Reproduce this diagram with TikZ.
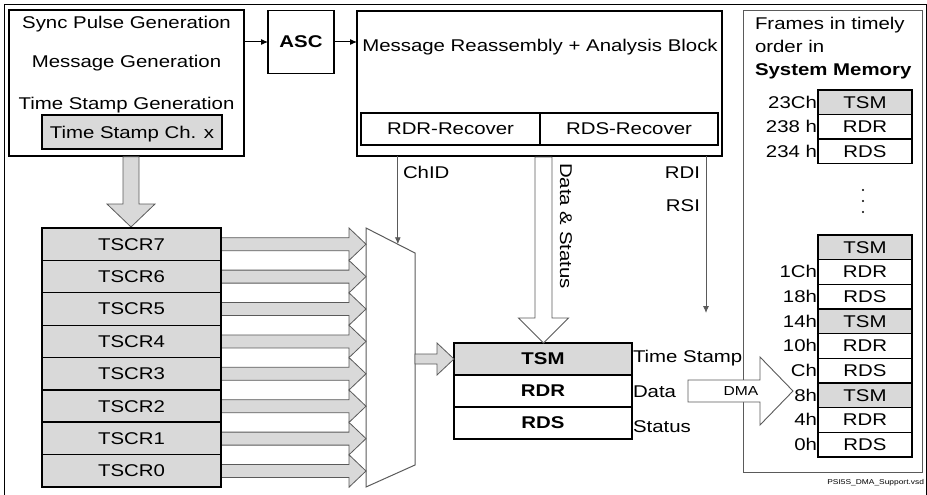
\documentclass[tikz,border=0pt]{standalone}
\usepackage{fontspec}
\setmainfont{Liberation Sans}[FakeStretch=1.2]
\usetikzlibrary{arrows.meta,calc}
\definecolor{fillgrey}{RGB}{217,217,217}
\definecolor{linegrey}{RGB}{90,90,90}
% style, x1, xtip, yc, shafthalf, headlen, headhalf
\newcommand\myHArrow[7]{%
  \draw[#1] (#2,#4-#5) -- (#3-#6,#4-#5) -- (#3-#6,#4-#7) -- (#3,#4) -- (#3-#6,#4+#7) -- (#3-#6,#4+#5) -- (#2,#4+#5) -- cycle;}
% style, xc, y1, ytip, shafthalf, headlen, headhalf
\newcommand\myVArrow[7]{%
  \draw[#1] (#2-#5,#3) -- (#2-#5,#4-#6) -- (#2-#7,#4-#6) -- (#2,#4) -- (#2+#7,#4-#6) -- (#2+#5,#4-#6) -- (#2+#5,#3) -- cycle;}
\begin{document}
\begin{tikzpicture}[x=1pt,y=-1pt,
  every node/.style={font=\fontsize{17}{20}\selectfont, inner sep=0pt, outer sep=0pt},
  thickbox/.style={draw=black, line width=1.6pt},
  regbox/.style={draw=black, line width=1.5pt, minimum width=178pt, minimum height=32pt, text depth=0pt, font=\fontsize{17}{20}\selectfont\bfseries},
  cell/.style={draw=black, line width=1.3pt, minimum width=94pt, minimum height=24.6pt, text depth=0pt},
  greyarrow/.style={draw=linegrey, line width=0.8pt, fill=fillgrey},
  whitearrow/.style={draw=linegrey, line width=0.9pt, fill=white},
  thinarrow/.style={draw=linegrey, line width=0.9pt, -{Latex[length=7pt,width=6pt]}},
  linkarrow/.style={draw=black, line width=1pt, -{Latex[length=7pt,width=6pt]}}
]
\useasboundingbox (0,0) rectangle (927,495);
% outer frame
\draw[line width=1pt] (4,495) -- (4,5) -- (926,5) -- (926,495);

% generation block
\node[thickbox, minimum width=235pt, minimum height=146pt] (gen) at (126.5,83) {};
\node[anchor=base] (t1) at (126.5,29) {Sync Pulse Generation};
\node[anchor=base] (t2) at (126.5,67.5) {Message Generation};
\node[anchor=base] (t3) at (126.5,110) {Time Stamp Generation};
\node[thickbox, fill=fillgrey, minimum width=180pt, minimum height=34pt, text depth=0pt] (tsc) at (132,132) {Time Stamp Ch. x};

% ASC
\node[thickbox, minimum width=66pt, minimum height=63pt, text depth=0pt, font=\fontsize{17}{20}\selectfont\bfseries] (asc) at (301,42) {ASC};

% message reassembly block
\node[draw=black, line width=2pt, minimum width=365pt, minimum height=145pt] (mra) at (539.5,83.5) {};
\node[anchor=base] (mratext) at (540,52) {Message Reassembly + Analysis Block};
\node[draw=black, line width=1.3pt, minimum width=179pt, minimum height=32pt, text depth=0pt] (rdrrec) at (450.5,129) {RDR-Recover};
\node[draw=black, line width=1.3pt, minimum width=178pt, minimum height=32pt, text depth=0pt] (rdsrec) at (629,129) {RDS-Recover};

\draw[linkarrow] (gen.east |- asc.west) -- (asc.west);
\draw[linkarrow] (asc.east) -- (asc.east -| mra.west);

% big grey arrow down
\myVArrow{greyarrow}{131}{156.8}{227}{8}{23}{24}

% TSCR registers and arrows
\foreach \i/\lab in {0/TSCR7,1/TSCR6,2/TSCR5,3/TSCR4,4/TSCR3,5/TSCR2,6/TSCR1,7/TSCR0} {
  \node[draw=black, line width=1.3pt, fill=fillgrey, minimum width=179pt, minimum height=32.4pt, text depth=0pt] (tscr\i) at (131.5,{244.2+32.4*\i}) {\lab};
  \myHArrow{greyarrow}{221.5}{366}{244.2+32.4*\i}{6.5}{17}{16.2}
}
\draw[line width=2pt] (tscr0.north west) rectangle (tscr7.south east);
\draw[line width=2pt] (tscr5.south west) -- (tscr5.south east);

% multiplexer
\coordinate (muxTL) at (366,228);
\coordinate (muxTR) at (415,253);
\coordinate (muxBR) at (415,465);
\coordinate (muxBL) at (366,487);
\draw[linegrey, line width=1pt] (muxTL) -- (muxTR) -- (muxBR) -- (muxBL) -- cycle;
\coordinate (chidEnd) at ($(muxTL)!0.65!(muxTR)$);
\draw[thinarrow] (mra.south -| chidEnd) -- (chidEnd);
\node[anchor=base west] (chidlab) at (403,178) {ChID};

% TSM / RDR / RDS
\node[regbox, fill=fillgrey] (tsm) at (543,359) {TSM};
\node[regbox] (rdr) at (543,391) {RDR};
\node[regbox] (rds) at (543,423) {RDS};
\myHArrow{greyarrow}{415}{454}{359}{5}{17}{16}

% Data & Status arrow
\myVArrow{whitearrow}{543.5}{157}{343}{8.5}{25}{25}
\node[rotate=-90] (dslab) at (566,226) {Data \& Status};

% RDI / RSI
\coordinate (rdiEnd) at (706,313);
\draw[thinarrow] (mra.south -| rdiEnd) -- (rdiEnd);
\node[anchor=base east] (rdilab) at (700,178) {RDI};
\node[anchor=base east] (rsilab) at (700,211) {RSI};

% side labels
\node[anchor=base west] (lts) at (633,362) {Time Stamp};
\node[anchor=base west] (ldata) at (633,397) {Data};
\node[anchor=base west] (lstat) at (633,432) {Status};

% memory panel
\node[draw=linegrey, line width=0.9pt, minimum width=179pt, minimum height=462pt] (panel) at (832.5,241) {};
\node[anchor=base west] (p1) at (755,30) {Frames in timely};
\node[anchor=base west] (p2) at (755,53) {order in};
\node[anchor=base west, font=\fontsize{17}{20}\selectfont\bfseries] (p3) at (755,76) {System Memory};

% DMA arrow
\myHArrow{whitearrow}{688}{793}{391}{11}{33}{34}
\node[font=\fontsize{13}{15}\selectfont] (dmalab) at (741,391) {DMA};

% memory cells
\foreach \i/\lab/\addr/\f in {0/TSM/23Ch/fillgrey,1/RDR/238 h/white,2/RDS/234 h/white} {
  \node[cell, fill=\f] (up\i) at (865,{102.25+24.5*\i}) {\lab};
  \node[anchor=base east] (upa\i) at ([xshift=-1pt]up\i.base west) {\addr};
}
\foreach \i/\lab/\addr/\f in {0/TSM//fillgrey,1/RDR/1Ch/white,2/RDS/18h/white,3/TSM/14h/fillgrey,4/RDR/10h/white,5/RDS/Ch/white,6/TSM/8h/fillgrey,7/RDR/4h/white,8/RDS/0h/white} {
  \node[cell, fill=\f] (lo\i) at (865,{247.3+24.67*\i}) {\lab};
  \node[anchor=base east] (loa\i) at ([xshift=-1pt]lo\i.base west) {\addr};
}
\foreach \yy in {190,201,212} {
  \fill (863,\yy) circle[radius=1.2pt];
}

\node[anchor=base east, font=\fontsize{7}{8}\selectfont] (fname) at (924,484) {PSI5S\_DMA\_Support.vsd};
\end{tikzpicture}
\end{document}
